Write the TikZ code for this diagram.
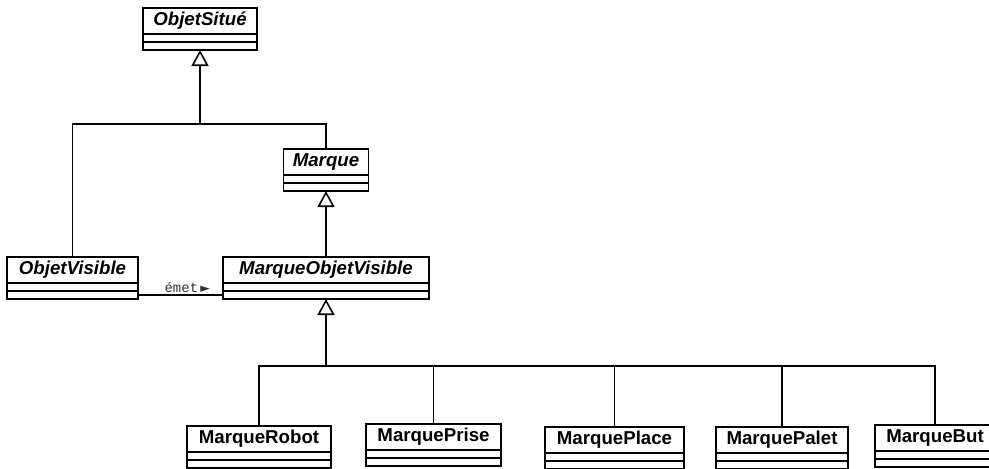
\documentclass[tikz,border=0pt]{standalone}
\usepackage{fontspec}
\setmainfont{Liberation Sans}
\newfontfamily\labelmono{Liberation Mono}
\newfontfamily\labelsym{DejaVu Sans}
\usetikzlibrary{arrows.meta}

% class box: name compartment plus two empty compartments below it
\newcommand\umlclass[5]{%
  \node[#1, minimum width=#4*0.75pt] (#2) at #3 {#5};
  \node[compart, minimum width=#4*0.75pt] (#2-a) at (#2.south) {};
  \node[compart, minimum width=#4*0.75pt] (#2-o) at (#2-a.south) {};
}

\begin{document}
\begin{tikzpicture}[x=0.75pt,y=-0.75pt,
  classbox/.style={draw, line width=1.2pt, inner sep=0pt, outer sep=0pt,
    minimum height=19.5pt, anchor=north,
    font=\fontsize{14}{16}\selectfont\bfseries},
  abstractbox/.style={classbox,
    font=\fontsize{14}{16}\selectfont\bfseries\itshape},
  compart/.style={draw, line width=1.2pt, inner sep=0pt, outer sep=0pt,
    minimum height=6pt, anchor=north},
  link/.style={line width=1.2pt},
  gen/.style={line width=1.5pt,
    -{Triangle[open, length=12pt, width=12.75pt, line width=1.2pt]}},
  assoclabel/.style={inner sep=1.5pt, text=black!80,
    font=\fontsize{10.5}{12}\selectfont\labelmono},
]
\useasboundingbox (0,0) rectangle (989,468);
\fill[white] (0,0) rectangle (989,468);
\clip (0,0) rectangle (989,468);

% classes
\umlclass{abstractbox}{os}{(200,8)}{114}{ObjetSitué}
\umlclass{abstractbox}{mq}{(326,149)}{85}{Marque}
\umlclass{abstractbox}{ov}{(72.5,257)}{131}{ObjetVisible}
\umlclass{abstractbox}{mov}{(326,257)}{206}{MarqueObjetVisible}
\umlclass{classbox}{mr}{(259,426)}{144}{MarqueRobot}
\umlclass{classbox}{mpr}{(433.5,424)}{135}{MarquePrise}
\umlclass{classbox}{mpl}{(614.5,427)}{139}{MarquePlace}
\umlclass{classbox}{mpa}{(782,427)}{132}{MarquePalet}
\umlclass{classbox}{mbut}{(935,425)}{120}{MarqueBut}

% generalisation: ObjetVisible and Marque
\coordinate (j1) at (200,124);
\draw[link] (ov.north) |- (j1) -| (mq.north);
\draw[gen] (j1) -- (os-o.south);

% generalisation: MarqueObjetVisible
\draw[gen] (mov.north) -- (mq-o.south);

% generalisation: concrete marks
\coordinate (j2) at (326,366);
\draw[link] (mr.north) |- (j2) -| (mbut.north);
\draw[link] (mpr.north) -- (mpr.north |- j2);
\draw[link] (mpl.north) -- (mpl.north |- j2);
\draw[link] (mpa.north) -- (mpa.north |- j2);
\draw[gen] (j2) -- (mov-o.south);

% association
\draw[link] (ov-o.east) -- node[above, pos=0.58, assoclabel]
  {émet{\labelsym\fontsize{9.5}{10}\selectfont\,►}} (mov-o.west);
\end{tikzpicture}
\end{document}
